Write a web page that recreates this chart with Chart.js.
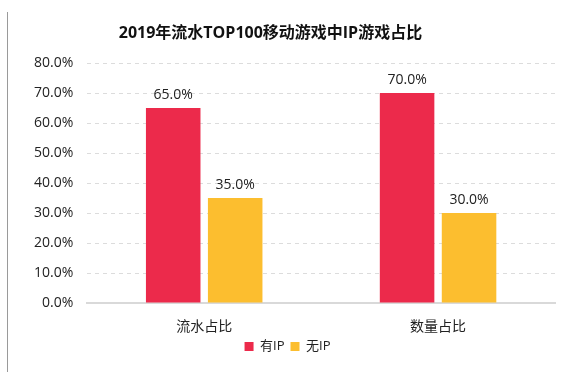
<!DOCTYPE html>
<html>
<head>
<meta charset="utf-8">
<script src="https://cdn.jsdelivr.net/npm/chart.js@4/dist/chart.umd.min.js"></script>
<style>
  html, body { margin: 0; padding: 0; background: #fff; }
  #wrap { position: relative; width: 573px; height: 375px; }
  #frame { position: absolute; left: 7px; top: 12px; width: 0; height: 360px; border-left: 1px solid #9a9a9a; }
</style>
</head>
<body>
<div id="wrap">
  <div id="frame"></div>
  <canvas id="c" width="573" height="375"></canvas>
</div>
<script>
const categories = ["流水占比", "数量占比"];
const seriesNames = ["有IP", "无IP"];
const withIP = [65.0, 70.0];
const withoutIP = [35.0, 30.0];
const colors = ["#EC2A4B", "#FCBE2F"];
const yTicksMax = 80;
const titleText = "2019年流水TOP100移动游戏中IP游戏占比";

const font = "'Open Sans', 'Noto Sans CJK SC', sans-serif";

const valueLabels = {
  id: "valueLabels",
  afterDatasetsDraw(chart) {
    const ctx = chart.ctx;
    ctx.save();
    ctx.font = "14px " + font;
    ctx.fillStyle = "#222";
    ctx.textAlign = "center";
    ctx.textBaseline = "bottom";
    chart.data.datasets.forEach((ds, i) => {
      chart.getDatasetMeta(i).data.forEach((bar, j) => {
        ctx.fillText(ds.data[j].toFixed(1) + "%", bar.x, bar.y - 6);
      });
    });
    ctx.restore();
  }
};

// title sits a bit left of centre in the original
const titlePlugin = {
  id: "offTitle",
  afterDraw(chart) {
    const ctx = chart.ctx;
    ctx.save();
    ctx.font = "bold 16px " + font;
    ctx.fillStyle = "#111";
    ctx.textAlign = "center";
    ctx.textBaseline = "middle";
    ctx.fillText(titleText, chart.width * 0.472, 33);
    ctx.restore();
  }
};

new Chart(document.getElementById("c"), {
  type: "bar",
  data: {
    labels: categories,
    datasets: [
      { label: seriesNames[0], data: withIP, backgroundColor: colors[0] },
      { label: seriesNames[1], data: withoutIP, backgroundColor: colors[1] }
    ]
  },
  options: {
    responsive: false,
    animation: false,
    categoryPercentage: 0.53,
    barPercentage: 0.88,
    layout: { padding: { left: 20, right: 18, top: 63, bottom: 12 } },
    plugins: {
      title: { display: false },
      legend: {
        position: "bottom",
        labels: {
          boxWidth: 9, boxHeight: 9, padding: 6,
          color: "#222",
          font: { family: font, size: 13, lineHeight: 1 }
        }
      },
      tooltip: { enabled: false }
    },
    scales: {
      x: {
        grid: { display: false, drawTicks: false },
        border: { color: "#d9d9d9", width: 2 },
        ticks: { color: "#222", font: { family: font, size: 14, lineHeight: 1 }, padding: 17 },
        afterFit: s => { s.height = 31; }
      },
      y: {
        min: 0, max: yTicksMax,
        border: { display: false, dash: [4, 4] },
        grid: { color: "#dcdcdc", drawTicks: false },
        ticks: {
          stepSize: 10, padding: 14, color: "#222",
          font: { family: font, size: 14 },
          callback: v => v.toFixed(1) + "%"
        }
      }
    }
  },
  plugins: [valueLabels, titlePlugin]
});
</script>
</body>
</html>
